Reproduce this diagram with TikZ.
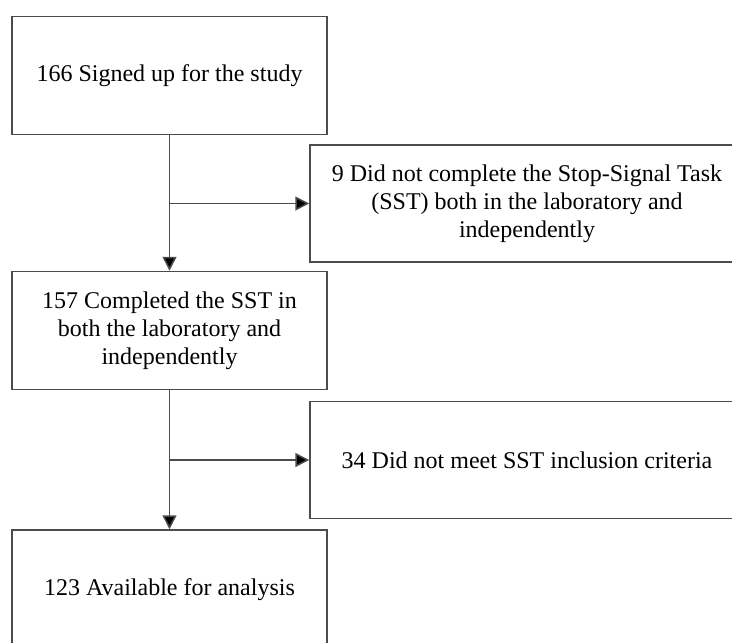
\documentclass[tikz,border=0pt]{standalone}
\usepackage{fontspec}
\setmainfont{Liberation Serif}
\usetikzlibrary{arrows.meta}
\begin{document}
\begin{tikzpicture}[x=0.5pt,y=-0.5pt,
	box/.style={draw=black!70,line width=0.75pt,align=center,inner sep=0pt,font=\fontsize{12}{14}\selectfont},
	leftbox/.style={box,minimum width=157.5pt,minimum height=59pt},
	rightbox/.style={box,minimum width=217pt,minimum height=58.5pt},
	arr/.style={draw=black!70,line width=0.75pt,-{Triangle[length=7pt,width=7pt,fill=black]}}]
		\clip (0,0) rectangle (732,642);
		%%%
		\node[leftbox] (signed) at (169.5,75.5) {166 Signed up for the study};
		\node[rightbox] (nosst) at (527,203.5) {9 Did not complete the Stop-Signal Task\\(SST) both in the laboratory and\\independently};
		\node[leftbox] (completed) at (169.5,330.5) {157 Completed the SST in\\both the laboratory and\\independently};
		\node[rightbox] (excluded) at (527,460) {34 Did not meet SST inclusion criteria};
		\node[leftbox,minimum height=60pt] (analysis) at (169.5,590) {123 Available for analysis};
		%%%
		\coordinate (split1) at (signed.south |- nosst.west);
		\coordinate (split2) at (completed.south |- excluded.west);
		%%%
		\draw[arr] (signed.south) -- (completed.north);
		\draw[arr] (split1) -- (nosst.west);
		\draw[arr] (completed.south) -- (analysis.north);
		\draw[arr] (split2) -- (excluded.west);
	\end{tikzpicture}
\end{document}
